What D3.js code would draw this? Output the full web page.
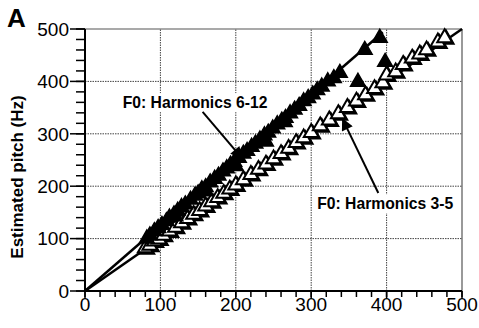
<!DOCTYPE html>
<html><head><meta charset="utf-8">
<script src="https://cdn.jsdelivr.net/npm/d3@7"></script>
<style>body{margin:0;background:#fff}svg{display:block;font-family:"Liberation Sans",Arial,sans-serif}</style>
</head><body>
<svg id="c" width="479" height="328"></svg>
<script>
// ---- data ----
const xTicks = [0, 100, 200, 300, 400, 500];
const yTicks = [0, 100, 200, 300, 400, 500];
const gridValues = [100, 200, 300, 400];
// F0: Harmonics 6-12 (filled triangles)
const highX = [82, 86, 92, 97, 102, 108, 112, 118, 123, 128, 133, 140, 146, 150, 155, 160, 166, 172, 177, 183, 188, 193, 198, 204, 210, 215, 221, 226, 232, 238, 243, 249, 255, 261, 266, 272, 278, 284, 290, 296, 302, 308, 314, 322, 330, 338, 362, 371, 391, 398, 120, 160, 200, 240, 265];
const highY = [100, 106, 114, 120, 126, 133, 140, 146, 153, 160, 165, 174, 182, 186, 194, 198, 207, 214, 220, 228, 234, 241, 246, 254, 262, 267, 275, 281, 289, 297, 302, 310, 318, 325, 330, 339, 346, 353, 362, 368, 375, 383, 390, 400, 406, 416, 399, 460, 483, 437, 142, 190, 238, 285, 322];
// F0: Harmonics 3-5 (open triangles)
const lowX = [80, 86, 92, 98, 104, 112, 120, 128, 136, 144, 152, 160, 168, 176, 184, 192, 200, 210, 220, 230, 240, 250, 260, 270, 280, 290, 300, 312, 324, 336, 348, 360, 372, 384, 395, 400, 412, 422, 434, 444, 453, 468, 477];
const lowY = [82, 87, 95, 99, 106, 114, 121, 130, 138, 146, 153, 162, 170, 178, 186, 194, 202, 212, 222, 232, 242, 252, 262, 272, 283, 292, 302, 315, 326, 338, 350, 362, 374, 386, 397, 412, 418, 432, 444, 452, 460, 475, 483];
// reference lines (slope)
const fitLines = [{slope: 1.25, xEnd: 395}, {slope: 1.0, xEnd: 500}];
const labels = [
  {text: "F0: Harmonics 6-12", x: 50, y: 349, ax: 156, ay: 342, tx: 209, ty: 252},
  {text: "F0: Harmonics 3-5", x: 308, y: 156, ax: 389, ay: 187, tx: 341, ty: 330}
];

const svg = d3.select("#c");
const x = d3.scaleLinear().domain([0, 500]).range([85, 462]);
const y = d3.scaleLinear().domain([0, 500]).range([291, 29]);

// grid
const g = svg.append("g");
g.selectAll(".gx").data(gridValues).join("line")
  .attr("x1", d => x(d)).attr("x2", d => x(d)).attr("y1", y(0)).attr("y2", y(500))
  .attr("stroke", "#444").attr("stroke-width", 1).attr("stroke-dasharray", "1.5,1");
g.selectAll(".gy").data(gridValues).join("line")
  .attr("y1", d => y(d)).attr("y2", d => y(d)).attr("x1", x(0)).attr("x2", x(500))
  .attr("stroke", "#444").attr("stroke-width", 1).attr("stroke-dasharray", "1.5,1");
g.append("line").attr("x1", x(0)).attr("x2", x(500)).attr("y1", y(500)).attr("y2", y(500)).attr("stroke", "#555").attr("stroke-width", 1.2);
g.append("line").attr("x1", x(500)).attr("x2", x(500)).attr("y1", y(0)).attr("y2", y(500)).attr("stroke", "#555").attr("stroke-width", 1.2);

// axes
const minor = d3.range(0, 501, 20);
const ax = svg.append("g");
ax.selectAll(".ymin").data(minor).join("line")
  .attr("x1", x(0) - 9).attr("x2", x(0)).attr("y1", d => y(d)).attr("y2", d => y(d))
  .attr("stroke", "#000").attr("stroke-width", 1.5);
ax.selectAll(".ymaj").data(yTicks).join("line")
  .attr("x1", x(0) - 15).attr("x2", x(0)).attr("y1", d => y(d)).attr("y2", d => y(d))
  .attr("stroke", "#000").attr("stroke-width", 1.5);
ax.selectAll(".xmin").data(minor).join("line")
  .attr("y1", y(0)).attr("y2", y(0) + 6).attr("x1", d => x(d)).attr("x2", d => x(d))
  .attr("stroke", "#000").attr("stroke-width", 1.5);
ax.selectAll(".xmaj").data(xTicks).join("line")
  .attr("y1", y(0)).attr("y2", y(0) + 8).attr("x1", d => x(d)).attr("x2", d => x(d))
  .attr("stroke", "#000").attr("stroke-width", 1.5);
ax.append("line").attr("x1", x(0)).attr("x2", x(0)).attr("y1", y(0) + 1).attr("y2", y(500)).attr("stroke", "#000").attr("stroke-width", 2);
ax.append("line").attr("x1", x(0) - 1).attr("x2", x(500)).attr("y1", y(0)).attr("y2", y(0)).attr("stroke", "#000").attr("stroke-width", 2);
ax.selectAll(".yl").data(yTicks).join("text")
  .attr("x", x(0) - 16).attr("y", d => y(d)).attr("dy", "0.36em")
  .attr("text-anchor", "end").attr("font-size", 19).text(d => d);
ax.selectAll(".xl").data(xTicks).join("text")
  .attr("x", d => x(d)).attr("y", y(0) + 20)
  .attr("text-anchor", "middle").attr("font-size", 19).text(d => d);

svg.append("text").attr("transform", "translate(23,177) rotate(-90)")
  .attr("text-anchor", "middle").attr("font-size", 17).attr("font-weight", "bold")
  .text("Estimated pitch (Hz)");
svg.append("text").attr("x", 7).attr("y", 27).attr("font-size", 26).attr("font-weight", "bold").text("A");

// fit lines
svg.selectAll(".fit").data(fitLines).join("line")
  .attr("x1", x(0)).attr("y1", y(0))
  .attr("x2", d => x(d.xEnd)).attr("y2", d => y(d.xEnd * d.slope))
  .attr("stroke", "#000").attr("stroke-width", 2.5);

// markers
const tri = d3.symbol().type(d3.symbolTriangle).size(95);
const lowPts = lowX.map((v, i) => [v, lowY[i]]);
svg.selectAll(".los").data(lowPts).join("path")
  .attr("d", tri).attr("transform", d => `translate(${x(d[0]) + 1.5},${y(d[1]) + 1.5})`)
  .attr("fill", "#000").attr("stroke", "#000").attr("stroke-width", 2);
svg.selectAll(".lo").data(lowPts).join("path")
  .attr("d", tri).attr("transform", d => `translate(${x(d[0])},${y(d[1])})`)
  .attr("fill", "#fff").attr("stroke", "#000").attr("stroke-width", 2);
svg.selectAll(".hi").data(highX.map((v, i) => [v, highY[i]])).join("path")
  .attr("d", tri).attr("transform", d => `translate(${x(d[0])},${y(d[1])})`)
  .attr("fill", "#000").attr("stroke", "#000").attr("stroke-width", 1.5);

// labels with arrows
svg.append("defs").append("marker").attr("id", "ah")
  .attr("viewBox", "0 0 10 10").attr("refX", 10).attr("refY", 5)
  .attr("markerWidth", 8).attr("markerHeight", 6).attr("orient", "auto")
  .attr("markerUnits", "strokeWidth")
  .append("path").attr("d", "M0,0L10,5L0,10Z").attr("fill", "#000");
labels.forEach(l => {
  const t = svg.append("text").attr("x", x(l.x)).attr("y", y(l.y))
    .attr("font-size", 15.7).attr("font-weight", "bold").text(l.text);
  const bb = t.node().getBBox();
  svg.insert("rect", () => t.node()).attr("x", bb.x - 2).attr("y", bb.y - 1)
    .attr("width", bb.width + 4).attr("height", bb.height + 2).attr("fill", "#fff");
  svg.append("line").attr("x1", x(l.ax)).attr("y1", y(l.ay)).attr("x2", x(l.tx)).attr("y2", y(l.ty))
    .attr("stroke", "#000").attr("stroke-width", 2).attr("marker-end", "url(#ah)");
});
</script>
</body></html>
